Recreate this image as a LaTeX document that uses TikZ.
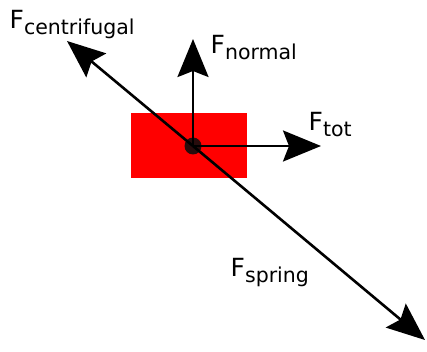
\documentclass[tikz,border=0pt]{standalone}
\usepackage{fontspec}
\setmainfont{DejaVu Sans}
\usepackage{xcolor}
\usepackage{tikz}
\usetikzlibrary{arrows.meta}
\definecolor{bloque}{RGB}{255,0,0}
\definecolor{punto}{RGB}{40,12,12}
\newcommand{\Fsub}[1]{{\fontsize{25}{25}\selectfont F}\raisebox{-6pt}{\fontsize{20.5}{20.5}\selectfont #1}}

\begin{document}
\begin{tikzpicture}[x=1pt, y=-1pt, >={Stealth[length=38pt, width=31pt, inset=6pt]}]
  \useasboundingbox (0,0) rectangle (427,352);
  \tikzset{force/.style={->, line width=2.6pt, black}}
  \coordinate (o) at (193,146);
  \coordinate (cf) at (67,41);
  \coordinate (sp) at (425,340);
  \coordinate (nm) at (193,39);
  \coordinate (tt) at (321,146);
  \fill[bloque] (131,113) rectangle (247,178);
  \fill[punto] (o) circle (8.5);
  \draw[force] (o) -- (cf);
  \draw[force] (o) -- (sp);
  \draw[force] (o) -- (nm);
  \draw[force] (o) -- (tt);
  \node[anchor=base west, inner sep=0] (lcf) at (9.5,29) {\Fsub{centrifugal}};
  \node[anchor=base west, inner sep=0] (lnm) at (210.5,54) {\Fsub{normal}};
  \node[anchor=base west, inner sep=0] (ltt) at (308.5,131) {\Fsub{tot}};
  \node[anchor=base west, inner sep=0] (lsp) at (230.5,276) {\Fsub{spring}};
\end{tikzpicture}
\end{document}
